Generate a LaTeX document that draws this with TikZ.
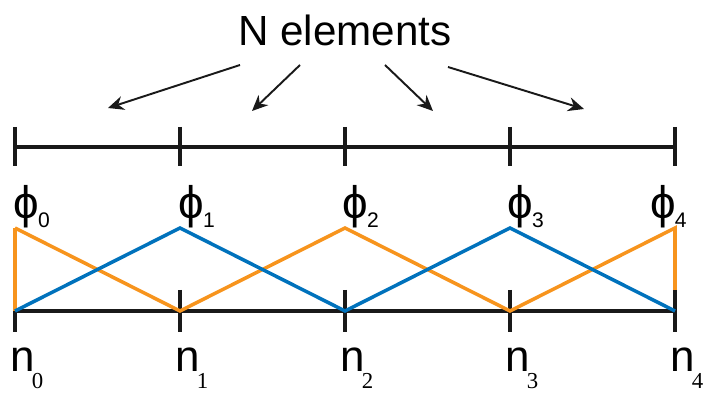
\documentclass[tikz,border=0pt]{standalone}
\usepackage{fontspec}
\setmainfont{Liberation Sans}
\newfontfamily\subfont{Liberation Serif}
\usetikzlibrary{arrows.meta, positioning, calc}

\definecolor{hatorange}{RGB}{247,148,29}
\definecolor{hatblue}{RGB}{0,114,188}

\newcommand{\phil}[1]{\fontsize{26}{28}\selectfont ϕ\kern-0.5pt\raisebox{-5pt}{\fontsize{12}{14}\selectfont #1}}
\newcommand{\nodel}[1]{\fontsize{25}{27}\selectfont n\kern-1.5pt\raisebox{-9.5pt}{\fontsize{13}{15}\subfont #1}}

\begin{document}
\begin{tikzpicture}[x=0.02cm, y=-0.02cm,
  mesh/.style={line width=2.4pt, black!90},
  hat/.style={line width=2pt, line join=miter},
  pointer/.style={-{Stealth[length=9pt, width=8pt]}, line width=1.1pt, black!90}]
\useasboundingbox (0,0) rectangle (707,394);

% Element bar
\draw[mesh] (15,147) -- (675,147);
\foreach \i/\x in {0/15,1/180,2/345,3/510,4/675} {
   \draw[mesh] (\x,127) -- (\x,166);
}

% Node bar
\draw[mesh] (15,311) -- (675,311);
\foreach \i/\x in {0/15,1/180,2/345,3/510,4/675} {
   \coordinate (p\i) at (\x,311);
   \draw[mesh] (\x,290) -- (\x,332);
   \node[anchor=base west, inner sep=0, xshift=-3] (n\i) at (\x,372) {\nodel{\i}};
}

% Hat functions
\draw[hat, hatorange] (15,228) -- (p0);
\draw[hat, hatorange] (15,228) -- (p1) -- (345,228) -- (p3) -- (675,228) -- (675,290);
\draw[hat, hatblue] (p0) -- (180,228) -- (p2) -- (510,228) -- (p4);

% Labels
\node[anchor=base west, inner sep=0] (phi0) at (13,219) {\phil{0}};
\node[anchor=base west, inner sep=0] (phi1) at (178,219) {\phil{1}};
\node[anchor=base west, inner sep=0] (phi2) at (342,219) {\phil{2}};
\node[anchor=base west, inner sep=0] (phi3) at (507,219) {\phil{3}};
\node[anchor=base east, inner sep=0] (phi4) at (687,219) {\phil{4}};

% Elements
\node[font=\fontsize{24}{28}\selectfont] (title) at (345,30) {N elements};
\coordinate (s1) at (240,65);  \coordinate (t1) at (108,108);
\coordinate (s2) at (300,65);  \coordinate (t2) at (252,111);
\coordinate (s3) at (385,65);  \coordinate (t3) at (433,111);
\coordinate (s4) at (448,67);  \coordinate (t4) at (584,109);
\foreach \k in {1,...,4} {
   \draw[pointer] (s\k) -- (t\k);
}
\end{tikzpicture}
\end{document}
